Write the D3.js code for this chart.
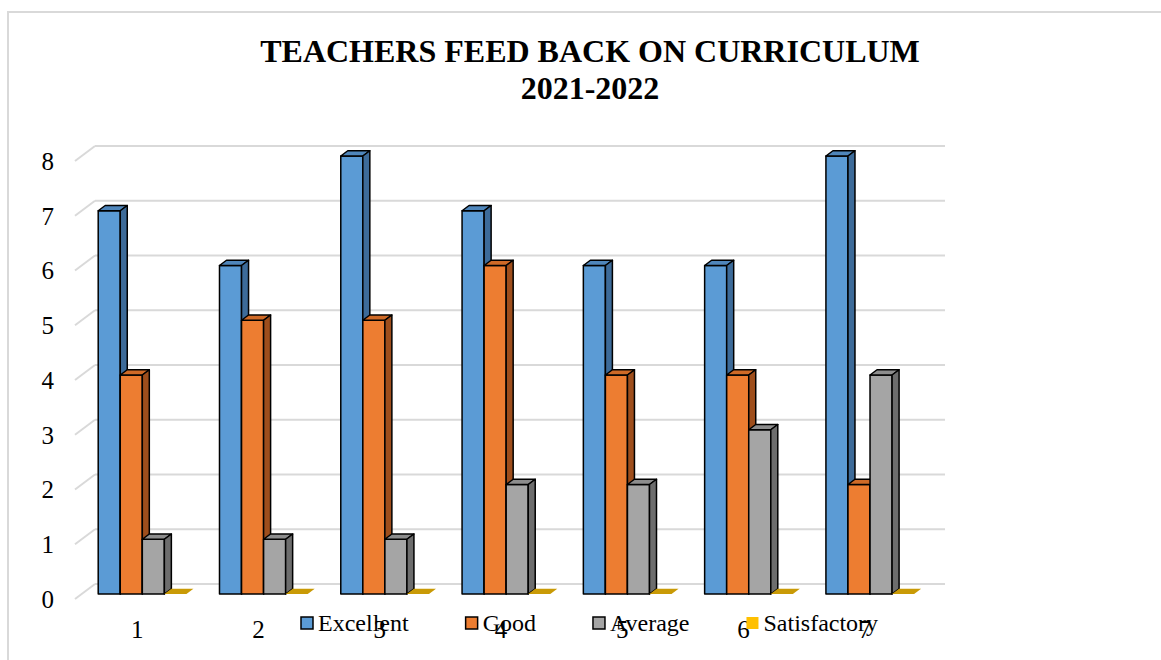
<!DOCTYPE html>
<html>
<head>
<meta charset="utf-8">
<script src="https://d3js.org/d3.v7.min.js"></script>
<style type="text/css">
  body { margin: 0; background: #fff; }
  svg { display: block; font-family: "Liberation Serif", "Times New Roman", serif; }
</style>
</head>
<body>
<svg id="chart" width="1161" height="660"></svg>
<script>
// data
const categories = ['1', '2', '3', '4', '5', '6', '7'];
const seriesNames = ['Excellent', 'Good', 'Average', 'Satisfactory'];
const excellent = [7, 6, 8, 7, 6, 6, 8];
const good = [4, 5, 5, 6, 4, 4, 2];
const average = [1, 1, 1, 2, 2, 3, 4];
const satisfactory = [0, 0, 0, 0, 0, 0, 0];
const yTicks = [0, 1, 2, 3, 4, 5, 6, 7, 8];
const titleLines = ['TEACHERS FEED BACK ON CURRICULUM', '2021-2022'];

const values = [excellent, good, average, satisfactory];
const colors = [
  { front: '#5b9bd5', top: '#4f86bb', side: '#3d6b99' },
  { front: '#ed7d31', top: '#cf6a27', side: '#9e4e1c' },
  { front: '#a5a5a5', top: '#8d8d8d', side: '#6d6d6d' },
  { front: '#ffc000', top: '#c99a06', side: '#a07a00' }
];

const svg = d3.select('#chart');

// chart frame (only top and left edges show)
svg.append('rect')
  .attr('x', 8).attr('y', 12)
  .attr('width', 1300).attr('height', 800)
  .attr('fill', 'none')
  .attr('stroke', '#d9d9d9')
  .attr('stroke-width', 2);

// title
svg.append('g').selectAll('text')
  .data(titleLines)
  .join('text')
  .attr('x', 590)
  .attr('y', (d, i) => 62 + i * 37)
  .attr('text-anchor', 'middle')
  .attr('font-size', 32)
  .attr('font-weight', 'bold')
  .attr('fill', '#000')
  .text(d => d);

// 3d geometry: floor depth and bar depth
const wallDx = 20, wallDy = -15;
const barOffX = 6.67, barOffY = -5;
const barDx = 7, barDy = -5.25;

const y = d3.scaleLinear().domain([0, 8]).range([599, 161]);
const x = d3.scaleBand().domain(categories).range([75, 924]).padding(0);
const xs = d3.scaleBand().domain(seriesNames).range([0, x.bandwidth()])
  .paddingInner(0).paddingOuter(0.75);

// gridlines: back wall + left wall diagonals
const grid = svg.append('g');
grid.selectAll('line.h')
  .data(yTicks)
  .join('line')
  .attr('class', 'h')
  .attr('x1', 75 + wallDx).attr('x2', 924 + wallDx + 1)
  .attr('y1', d => y(d) + wallDy).attr('y2', d => y(d) + wallDy)
  .attr('stroke', '#d9d9d9').attr('stroke-width', 2);
grid.selectAll('line.d')
  .data(yTicks)
  .join('line')
  .attr('class', 'd')
  .attr('x1', 75).attr('x2', 75 + wallDx)
  .attr('y1', d => y(d)).attr('y2', d => y(d) + wallDy)
  .attr('stroke', '#d9d9d9').attr('stroke-width', 2);

// y tick labels
svg.append('g').selectAll('text')
  .data(yTicks)
  .join('text')
  .attr('x', 54)
  .attr('y', d => y(d))
  .attr('dy', '0.35em')
  .attr('text-anchor', 'end')
  .attr('font-size', 25)
  .attr('fill', '#000')
  .text(d => d);

// bars, drawn left to right so neighbours cover hidden sides
const bars = svg.append('g');
categories.forEach((c, ci) => {
  seriesNames.forEach((s, si) => {
    const v = values[si][ci];
    const x0 = x(c) + xs(s) + barOffX;
    const x1 = x0 + xs.bandwidth();
    const yb = y(0) + barOffY;
    const yt = y(v) + barOffY;
    const col = colors[si];
    const g = bars.append('g');
    if (v === 0) {
      g.append('path')
        .attr('d', `M${x0},${yb}L${x1},${yb}L${x1 + barDx},${yb + barDy}L${x0 + barDx},${yb + barDy}Z`)
        .attr('fill', col.top);
      return;
    }
    const st = { stroke: '#000', w: 1.5 };
    g.append('path')
      .attr('d', `M${x0},${yb}L${x0},${yt}L${x1},${yt}L${x1},${yb}Z`)
      .attr('fill', col.front).attr('stroke', st.stroke).attr('stroke-width', st.w)
      .attr('stroke-linejoin', 'round');
    g.append('path')
      .attr('d', `M${x0},${yt}L${x0 + barDx},${yt + barDy}L${x1 + barDx},${yt + barDy}L${x1},${yt}Z`)
      .attr('fill', col.top).attr('stroke', st.stroke).attr('stroke-width', st.w)
      .attr('stroke-linejoin', 'round');
    g.append('path')
      .attr('d', `M${x1},${yb}L${x1},${yt}L${x1 + barDx},${yt + barDy}L${x1 + barDx},${yb + barDy}Z`)
      .attr('fill', col.side).attr('stroke', st.stroke).attr('stroke-width', st.w)
      .attr('stroke-linejoin', 'round');
  });
});

// category labels
svg.append('g').selectAll('text')
  .data(categories)
  .join('text')
  .attr('x', d => x(d) + x.bandwidth() / 2 + 1.5)
  .attr('y', 638)
  .attr('text-anchor', 'middle')
  .attr('font-size', 25)
  .attr('fill', '#000')
  .text(d => d);

// legend
const legend = svg.append('g');
let lx = 301;
seriesNames.forEach((s, si) => {
  legend.append('rect')
    .attr('x', lx).attr('y', 617)
    .attr('width', 12).attr('height', 12)
    .attr('fill', colors[si].front)
    .attr('stroke', si === 3 ? 'none' : '#000')
    .attr('stroke-width', 1.5);
  const t = legend.append('text')
    .attr('x', lx + 17).attr('y', 631)
    .attr('font-size', 24)
    .attr('fill', '#000')
    .text(s);
  lx += 17 + t.node().getComputedTextLength() + 57;
});
</script>
</body>
</html>
